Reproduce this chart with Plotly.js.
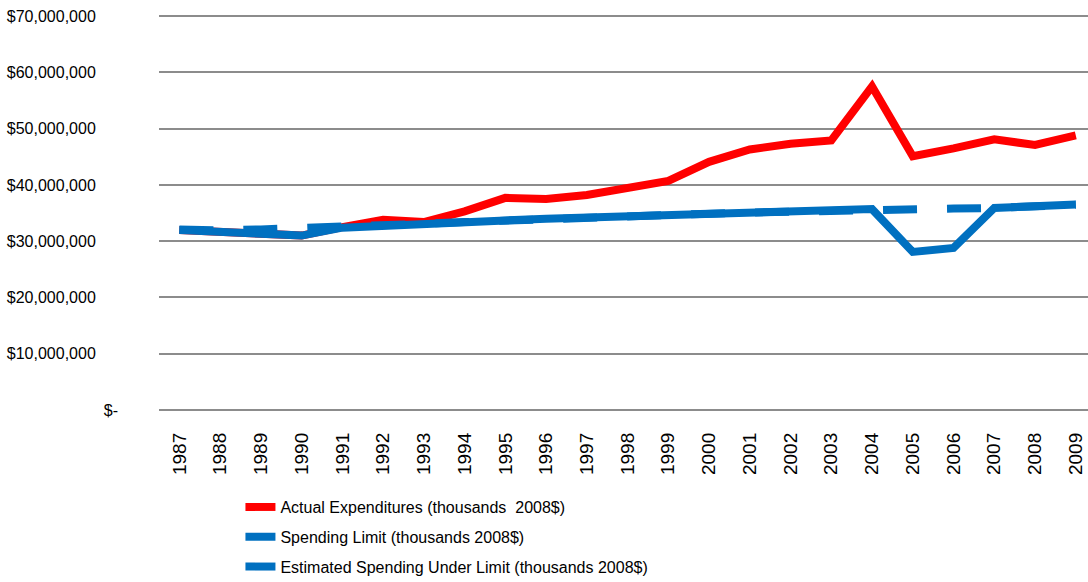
<!DOCTYPE html>
<html>
<head>
<meta charset="utf-8">
<script src="https://cdn.plot.ly/plotly-3.0.1.min.js"></script>
<style>
  html, body { margin: 0; padding: 0; background: #fff; }
  #chart { width: 1088px; height: 582px; }
</style>
</head>
<body>
<div id="chart"></div>
<script>
var years = ["1987", "1988", "1989", "1990", "1991", "1992", "1993", "1994", "1995", "1996", "1997", "1998",
  "1999", "2000", "2001", "2002", "2003", "2004", "2005", "2006", "2007", "2008", "2009"];

// values in dollars (millions)
var actual = [32.0, 31.6, 31.4, 31.0, 32.5, 33.8, 33.4, 35.3, 37.7, 37.5, 38.2, 39.4,
  40.7, 44.1, 46.3, 47.3, 47.9, 57.5, 45.1, 46.5, 48.1, 47.1, 48.8];
var limit = [32.1, 31.9, 32.1, 32.3, 32.4, 32.8, 33.1, 33.4, 33.7, 34.0, 34.2, 34.4,
  34.6, 34.9, 35.1, 35.3, 35.5, 35.7, 35.7, 35.8, 35.9, 36.2, 36.5];
var estimated = [32.0, 31.6, 31.4, 31.0, 32.4, 32.8, 33.1, 33.4, 33.7, 34.0, 34.2, 34.4,
  34.6, 34.9, 35.1, 35.3, 35.5, 35.7, 28.1, 28.8, 35.9, 36.2, 36.5];

var tickVals = [0, 10e6, 20e6, 30e6, 40e6, 50e6, 60e6, 70e6];
var pad = "\u00a0\u00a0\u00a0\u00a0\u00a0";
var tickText = ["$-", "$10,000,000" + pad, "$20,000,000" + pad, "$30,000,000" + pad, "$40,000,000" + pad,
  "$50,000,000" + pad, "$60,000,000" + pad, "$70,000,000" + pad];

function toDollars(arr) {
  return arr.map(function (v) { return v * 1e6; });
}

var trace1 = {
  x: years,
  y: toDollars(actual),
  mode: "lines",
  name: "Actual Expenditures (thousands  2008$)",
  line: { color: "#ff0000", width: 8 },
  legendgroup: "a"
};
var trace2 = {
  x: years,
  y: toDollars(limit),
  mode: "lines",
  name: "Spending Limit (thousands 2008$)",
  line: { color: "#0070c0", width: 8, dash: "34px,30px" },
  legendgroup: "b"
};
var trace3 = {
  x: years,
  y: toDollars(estimated),
  mode: "lines",
  name: "Estimated Spending Under Limit (thousands 2008$)",
  line: { color: "#0070c0", width: 8 },
  legendgroup: "c"
};

var data = [trace1, trace2, trace3];
var layout = {
  width: 1088,
  height: 582,
  margin: { l: 159, r: 0, t: 15, b: 172, autoexpand: false },
  paper_bgcolor: "#ffffff",
  plot_bgcolor: "#ffffff",
  showlegend: true,
  legend: {
    orientation: "v",
    traceorder: "grouped",
    tracegroupgap: 6,
    xref: "container",
    yref: "container",
    x: 0.221,
    xanchor: "left",
    y: 0.158,
    yanchor: "top",
    bgcolor: "rgba(0,0,0,0)",
    font: { family: "Liberation Sans, Arial", size: 16, color: "#000" }
  },
  xaxis: {
    type: "category",
    range: [-0.5, 22.3],
    tickangle: -90,
    showgrid: false,
    showline: false,
    ticks: "",
    ticklabelstandoff: 18,
    automargin: false,
    tickfont: { family: "Liberation Sans, Arial", size: 19, color: "#000" }
  },
  yaxis: {
    range: [0, 70.2e6],
    tickvals: tickVals,
    ticktext: tickText,
    showgrid: true,
    gridcolor: "#8c8c8c",
    gridwidth: 2,
    zeroline: true,
    zerolinecolor: "#8c8c8c",
    zerolinewidth: 2,
    ticks: "",
    ticklabelstandoff: 40,
    automargin: false,
    tickfont: { family: "Liberation Sans, Arial", size: 16, color: "#000" }
  }
};
var config = { responsive: false, displayModeBar: false, staticPlot: true };
Plotly.newPlot("chart", data, layout, config);
</script>
</body>
</html>
